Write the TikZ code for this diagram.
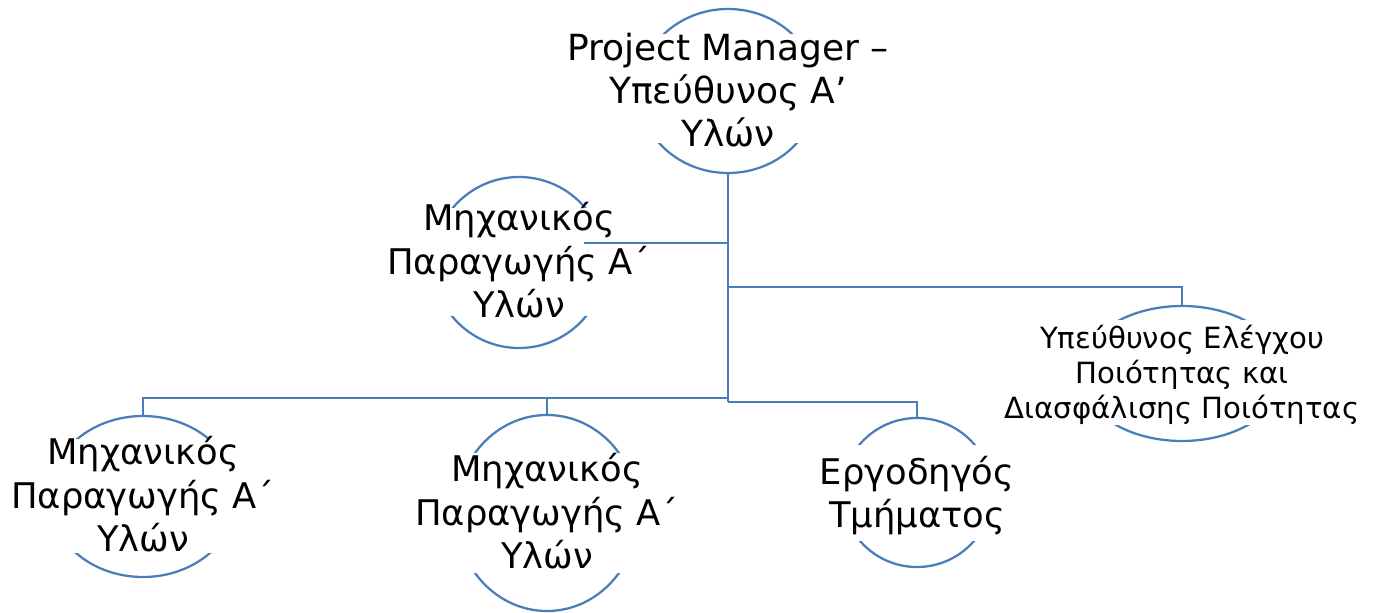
\documentclass[tikz,border=0pt]{standalone}
\usepackage{fontspec}
\setmainfont{DejaVu Sans}
\usetikzlibrary{shapes.geometric}
\definecolor{lineblue}{RGB}{74,126,187}
\begin{document}
\begin{tikzpicture}[x=0.75pt,y=-0.75pt,
  oval/.style={ellipse, draw=lineblue, line width=1.7pt, inner sep=0pt},
  mask/.style={rectangle, fill=white, draw=none, inner sep=0pt},
  conn/.style={draw=lineblue, line width=1.7pt},
  lbl/.style={align=center, inner sep=0pt, text=black, font=\fontsize{26.5}{32.6}\selectfont},
  lbltop/.style={align=center, inner sep=0pt, text=black, font=\fontsize{27}{32}\selectfont},
  lblsmall/.style={align=center, inner sep=0pt, text=black, font=\fontsize{21.9}{26.25}\selectfont}]
\useasboundingbox (0,0) rectangle (1376,613);
% ovals
\node[oval, minimum width=133.5pt, minimum height=123pt] (pm) at (728,91) {};
\node[oval, minimum width=129pt, minimum height=128.25pt] (lm) at (519,262.5) {};
\node[oval, minimum width=153pt, minimum height=101.25pt] (qa) at (1182,373.5) {};
\node[oval, minimum width=141pt, minimum height=120.75pt] (b1) at (143,496.5) {};
\node[oval, minimum width=136.5pt, minimum height=147pt] (b2) at (547,513) {};
\node[oval, minimum width=112.5pt, minimum height=111.75pt] (b3) at (917,492.5) {};
% masks: white bands hiding the sides of the ovals
\node[mask, minimum width=150pt, minimum height=81.75pt] (pmm) at (728,88.5) {};
\node[mask, minimum width=146pt, minimum height=81pt] (lmm) at (519,262) {};
\node[mask, minimum width=170pt, minimum height=78.75pt] (qam) at (1182,372.5) {};
\node[mask, minimum width=158pt, minimum height=85.5pt] (b1m) at (143,496) {};
\node[mask, minimum width=154pt, minimum height=90pt] (b2m) at (547,513) {};
\node[mask, minimum width=128pt, minimum height=72pt] (b3m) at (917,493) {};
% junctions
\coordinate (j1) at (728,243);
\coordinate (j2) at (728,287);
\coordinate (j3) at (728,398);
\coordinate (j4) at (728,402);
\coordinate (lmend) at (584,243);
% connectors
\draw[conn] (pm.south) -- (j4);
\draw[conn] (j1) -- (lmend);
\draw[conn] (j2) -| (qa.north);
\draw[conn] (j3) -| (b1.north);
\draw[conn] (j3) -| (b2.north);
\draw[conn] (j4) -| (b3.north);
% texts
\node[lbltop] (pmt) at (728,90) {Project Manager –\\Υπεύθυνος Α’\\Υλών};
\node[lbl] (lmt) at (519,260.5) {Μηχανικός\\Παραγωγής Α΄\\Υλών};
\node[lblsmall] (qat) at (1182,374.5) {Υπεύθυνος Ελέγχου\\Ποιότητας και\\Διασφάλισης Ποιότητας};
\node[lbl] (b1t) at (143,494.5) {Μηχανικός\\Παραγωγής Α΄\\Υλών};
\node[lbl] (b2t) at (547,511.5) {Μηχανικός\\Παραγωγής Α΄\\Υλών};
\node[lbl] (b3t) at (917,495.5) {Εργοδηγός\\Τμήματος};
\end{tikzpicture}
\end{document}
